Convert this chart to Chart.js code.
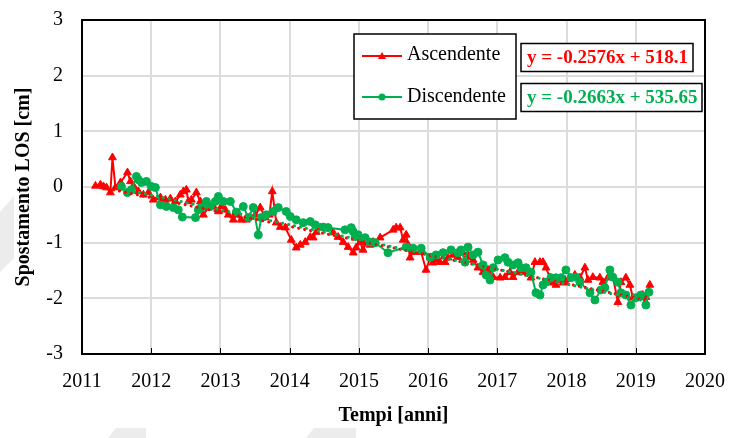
<!doctype html>
<html>
<head>
<title>Spostamento LOS</title>
<script src="https://cdn.jsdelivr.net/npm/chart.js@4.4.0/dist/chart.umd.min.js"></script>
<style>
	body { margin: 0; background: #fff; }
	canvas { display: block; }
</style>
</head>
<body>
<canvas id="canvas" width="733" height="438"></canvas>
<script>
// Ascendente (red, triangles)
var ascYears = [2011.195, 2011.267, 2011.31, 2011.354, 2011.41, 2011.44, 2011.483, 2011.556, 2011.657, 2011.70,
	2011.743, 2011.815, 2011.887, 2011.96, 2012.03, 2012.133, 2012.205, 2012.277, 2012.35, 2012.42,
	2012.465, 2012.508, 2012.537, 2012.58, 2012.652, 2012.71, 2012.753, 2012.825, 2012.898, 2012.97,
	2013.013, 2013.07, 2013.114, 2013.186, 2013.23, 2013.30, 2013.374, 2013.43, 2013.503, 2013.575,
	2013.648, 2013.706, 2013.749, 2013.807, 2013.864, 2013.937, 2014.023, 2014.095, 2014.153, 2014.225,
	2014.298, 2014.34, 2014.385, 2014.44, 2014.556, 2014.63, 2014.70, 2014.773, 2014.845, 2014.918,
	2014.96, 2015.019, 2015.06, 2015.105, 2015.163, 2015.206, 2015.307, 2015.495, 2015.538, 2015.596,
	2015.64, 2015.683, 2015.71, 2015.74, 2015.783, 2015.90, 2015.97, 2016.03, 2016.07, 2016.115,
	2016.17, 2016.245, 2016.288, 2016.36, 2016.43, 2016.505, 2016.577, 2016.606, 2016.65, 2016.72,
	2016.794, 2016.866, 2016.94, 2017.04, 2017.11, 2017.183, 2017.227, 2017.30, 2017.37, 2017.443,
	2017.486, 2017.544, 2017.616, 2017.66, 2017.703, 2017.76, 2017.804, 2017.847, 2017.905, 2017.948,
	2017.977, 2018.05, 2018.12, 2018.193, 2018.265, 2018.31, 2018.38, 2018.48, 2018.525, 2018.597,
	2018.67, 2018.742, 2018.785, 2018.857, 2018.915, 2018.958, 2019.03, 2019.10, 2019.146, 2019.203];
var ascValues = [0.02, 0.04, 0.01, -0.01, -0.10, 0.53, -0.01, 0.08, 0.26, 0.10,
	0.02, -0.08, -0.14, -0.10, -0.23, -0.19, -0.23, -0.21, -0.26, -0.14,
	-0.08, -0.05, -0.26, -0.23, -0.10, -0.26, -0.50, -0.37, -0.35, -0.44,
	-0.35, -0.41, -0.50, -0.59, -0.50, -0.59, -0.59, -0.54, -0.50, -0.37,
	-0.55, -0.50, -0.08, -0.64, -0.72, -0.73, -0.95, -1.09, -1.04, -0.99,
	-0.90, -0.91, -0.81, -0.73, -0.73, -0.82, -0.90, -0.99, -1.08, -1.18,
	-1.09, -0.99, -1.13, -1.00, -1.04, -0.99, -0.91, -0.77, -0.73, -0.73,
	-0.95, -0.86, -1.04, -1.27, -1.17, -1.17, -1.49, -1.27, -1.36, -1.31,
	-1.35, -1.35, -1.27, -1.22, -1.26, -1.18, -1.22, -1.26, -1.31, -1.45,
	-1.53, -1.49, -1.62, -1.63, -1.62, -1.53, -1.62, -1.53, -1.53, -1.49,
	-1.63, -1.35, -1.35, -1.35, -1.45, -1.63, -1.72, -1.76, -1.67, -1.72,
	-1.67, -1.63, -1.58, -1.63, -1.45, -1.67, -1.62, -1.63, -1.71, -1.63,
	-1.62, -2.07, -1.71, -1.63, -1.76, -1.99, -1.98, -1.94, -1.98, -1.76];

// Discendente (green, circles)
var discYears = [2011.57, 2011.657, 2011.714, 2011.786, 2011.815, 2011.859, 2011.93, 2012.003, 2012.06, 2012.133,
	2012.22, 2012.32, 2012.39, 2012.45, 2012.64, 2012.68, 2012.724, 2012.797, 2012.854, 2012.926,
	2012.97, 2013.042, 2013.143, 2013.23, 2013.33, 2013.403, 2013.475, 2013.547, 2013.59, 2013.662,
	2013.763, 2013.835, 2013.95, 2014.009, 2014.095, 2014.196, 2014.297, 2014.37, 2014.485, 2014.556,
	2014.80, 2014.89, 2014.917, 2014.946, 2014.99, 2015.09, 2015.163, 2015.235, 2015.42, 2015.683,
	2015.783, 2015.90, 2016.03, 2016.115, 2016.216, 2016.33, 2016.43, 2016.476, 2016.534, 2016.577,
	2016.65, 2016.72, 2016.794, 2016.837, 2016.894, 2016.94, 2017.01, 2017.11, 2017.154, 2017.227,
	2017.30, 2017.342, 2017.414, 2017.486, 2017.558, 2017.616, 2017.66, 2017.703, 2017.775, 2017.847,
	2017.92, 2017.99, 2018.064, 2018.136, 2018.193, 2018.338, 2018.41, 2018.496, 2018.554, 2018.626,
	2018.67, 2018.742, 2018.785, 2018.857, 2018.93, 2019.0, 2019.073, 2019.146, 2019.19];
var discValues = [0.01, -0.10, -0.05, 0.19, 0.13, 0.08, 0.10, 0.01, -0.01, -0.32,
	-0.35, -0.37, -0.41, -0.54, -0.55, -0.41, -0.37, -0.26, -0.35, -0.26,
	-0.17, -0.26, -0.26, -0.45, -0.35, -0.55, -0.37, -0.86, -0.55, -0.50,
	-0.44, -0.37, -0.44, -0.53, -0.59, -0.64, -0.62, -0.68, -0.72, -0.73,
	-0.77, -0.73, -0.80, -0.89, -0.86, -0.91, -0.99, -1.00, -1.18, -1.08,
	-1.10, -1.10, -1.26, -1.22, -1.18, -1.13, -1.18, -1.13, -1.35, -1.08,
	-1.22, -1.17, -1.40, -1.58, -1.67, -1.45, -1.31, -1.27, -1.35, -1.40,
	-1.36, -1.45, -1.45, -1.53, -1.90, -1.94, -1.76, -1.71, -1.63, -1.63,
	-1.63, -1.49, -1.63, -1.62, -1.71, -1.90, -2.03, -1.85, -1.81, -1.49,
	-1.62, -1.71, -1.90, -1.94, -2.12, -1.99, -1.94, -2.12, -1.89];

// linear trend coefficients [slope, intercept]
var ascTrend = [-0.2576, 518.1];
var discTrend = [-0.2663, 535.65];
var ascLabel = 'y = -0.2576x + 518.1';
var discLabel = 'y = -0.2663x + 535.65';

var yTicks = [-3, -2, -1, 0, 1, 2, 3];
var xTicks = [2011, 2012, 2013, 2014, 2015, 2016, 2017, 2018, 2019, 2020];

var RED = '#ff0000';
var GREEN = '#00b050';
var SERIF = "'Liberation Serif', 'Times New Roman', serif";

function points(xs, ys) {
	return xs.map(function(x, i) { return {x: x, y: ys[i]}; });
}
function trend(xs, c) {
	var a = xs[0], b = xs[xs.length - 1];
	return [{x: a, y: c[0] * a + c[1]}, {x: b, y: c[0] * b + c[1]}];
}

// faint background marks along the page edges
var backdrop = {
	id: 'backdrop',
	beforeDraw: function(chart) {
		var ctx = chart.ctx;
		ctx.save();
		ctx.fillStyle = '#ececec';
		[[[0, 212], [14, 196], [14, 258], [0, 272]],
		 [[108, 438], [116, 428], [146, 428], [146, 438]],
		 [[306, 438], [314, 428], [356, 428], [356, 438]]].forEach(function(p) {
			ctx.beginPath();
			ctx.moveTo(p[0][0], p[0][1]);
			p.slice(1).forEach(function(q) { ctx.lineTo(q[0], q[1]); });
			ctx.closePath();
			ctx.fill();
		});
		ctx.restore();
	}
};

// frame, inward year ticks, legend and equation boxes
var overlay = {
	id: 'overlay',
	afterDraw: function(chart) {
		var ctx = chart.ctx, a = chart.chartArea, x = chart.scales.x;
		ctx.save();
		ctx.strokeStyle = '#000';
		ctx.lineWidth = 1;
		xTicks.slice(1, -1).forEach(function(t) {
			var px = Math.round(x.getPixelForValue(t)) + 0.5;
			ctx.beginPath();
			ctx.moveTo(px, a.bottom);
			ctx.lineTo(px, a.bottom - 6);
			ctx.stroke();
		});
		ctx.lineWidth = 2;
		ctx.strokeRect(a.left, a.top, a.right - a.left, a.bottom - a.top);

		// legend
		ctx.fillStyle = '#fff';
		ctx.fillRect(354, 34, 162, 85);
		ctx.lineWidth = 1.5;
		ctx.strokeRect(354, 34, 162, 85);
		ctx.lineWidth = 2;
		ctx.strokeStyle = RED;
		ctx.beginPath(); ctx.moveTo(362, 56); ctx.lineTo(402, 56); ctx.stroke();
		ctx.fillStyle = RED;
		ctx.beginPath(); ctx.moveTo(382, 52); ctx.lineTo(386, 59); ctx.lineTo(378, 59); ctx.closePath(); ctx.fill();
		ctx.strokeStyle = GREEN;
		ctx.beginPath(); ctx.moveTo(362, 97); ctx.lineTo(402, 97); ctx.stroke();
		ctx.fillStyle = GREEN;
		ctx.beginPath(); ctx.arc(382, 97, 3.5, 0, Math.PI * 2); ctx.fill();
		ctx.fillStyle = '#000';
		ctx.font = '20px ' + SERIF;
		ctx.textBaseline = 'middle';
		ctx.fillText('Ascendente', 407, 55);
		ctx.fillText('Discendente', 407, 97);

		// trend equations
		ctx.font = 'bold 19px ' + SERIF;
		[[ascLabel, RED, 43.5, 172], [discLabel, GREEN, 83.5, 181]].forEach(function(e) {
			ctx.fillStyle = '#fff';
			ctx.fillRect(521, e[2], e[3], 28);
			ctx.strokeStyle = '#000';
			ctx.lineWidth = 1.5;
			ctx.strokeRect(521, e[2], e[3], 28);
			ctx.fillStyle = e[1];
			ctx.fillText(e[0], 527, e[2] + 15);
		});
		ctx.restore();
	}
};

var tickFont = {family: SERIF, size: 20};
var titleFont = {family: SERIF, size: 20, weight: 'bold'};

var config = {
	type: 'line',
	data: {
		datasets: [{
			label: 'Ascendente',
			data: points(ascYears, ascValues),
			borderColor: RED,
			backgroundColor: RED,
			borderWidth: 2,
			pointStyle: 'triangle',
			pointRadius: 4.5,
			pointBorderWidth: 1,
			order: 3
		}, {
			label: 'Discendente',
			data: points(discYears, discValues),
			borderColor: GREEN,
			backgroundColor: GREEN,
			borderWidth: 2,
			pointStyle: 'circle',
			pointRadius: 4,
			pointBorderWidth: 1,
			order: 2
		}, {
			label: 'Trend Ascendente',
			data: trend(ascYears, ascTrend),
			borderColor: RED,
			borderWidth: 3,
			borderDash: [0.1, 6],
			borderCapStyle: 'round',
			pointRadius: 0,
			order: 1
		}, {
			label: 'Trend Discendente',
			data: trend(discYears, discTrend),
			borderColor: GREEN,
			borderWidth: 3,
			borderDash: [0.1, 6],
			borderCapStyle: 'round',
			pointRadius: 0,
			order: 0
		}]
	},
	options: {
		responsive: false,
		animation: false,
		layout: {padding: {top: 20, right: 28, left: 0, bottom: 0}},
		plugins: {legend: {display: false}, tooltip: {enabled: false}},
		scales: {
			x: {
				type: 'linear',
				min: xTicks[0],
				max: xTicks[xTicks.length - 1],
				afterFit: function(s) { s.height = 84; s.paddingLeft = 0; s.paddingRight = 0; },
				afterBuildTicks: function(s) { s.ticks = xTicks.map(function(v) { return {value: v}; }); },
				ticks: {color: '#000', font: tickFont, padding: 16, maxRotation: 0, autoSkip: false,
					callback: function(v) { return String(v); }},
				grid: {color: '#dcdcdc', lineWidth: 2, drawTicks: false},
				border: {display: false},
				title: {display: true, text: 'Tempi [anni]', color: '#000', font: titleFont, padding: {top: 0, bottom: 10}}
			},
			y: {
				min: yTicks[0],
				max: yTicks[yTicks.length - 1],
				afterFit: function(s) { s.width = 82; s.paddingTop = 0; s.paddingBottom = 0; },
				afterBuildTicks: function(s) { s.ticks = yTicks.map(function(v) { return {value: v}; }); },
				ticks: {color: '#000', font: tickFont, padding: 19},
				grid: {color: '#dcdcdc', lineWidth: 2, drawTicks: false},
				border: {display: false},
				title: {display: true, text: 'Spostamento LOS [cm]', color: '#000', font: titleFont, padding: {top: 12, bottom: 0}}
			}
		}
	},
	plugins: [backdrop, overlay]
};

window.onload = function() {
	var ctx = document.getElementById('canvas').getContext('2d');
	window.myLine = new Chart(ctx, config);
};
</script>
</body>
</html>
